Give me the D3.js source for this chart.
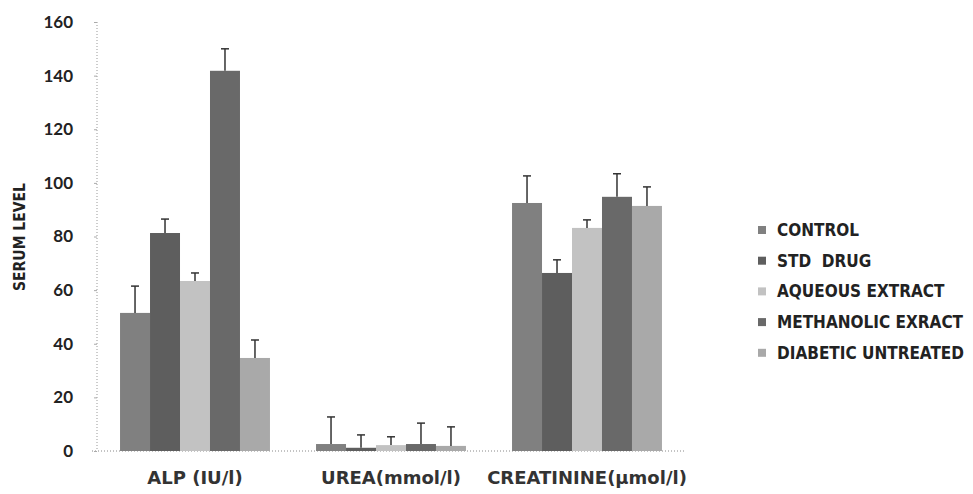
<!DOCTYPE html>
<html><head><meta charset="utf-8">
<script src="https://cdn.jsdelivr.net/npm/d3@7"></script>
<style>body{margin:0;background:#fff}svg{display:block}</style>
</head><body><svg id="c" width="973" height="494"></svg>
<script>
const categories = ["ALP (IU/l)", "UREA(mmol/l)", "CREATININE(\u00b5mol/l)"];
const seriesNames = ["CONTROL", "STD  DRUG", "AQUEOUS EXTRACT", "METHANOLIC EXRACT", "DIABETIC UNTREATED"];
const control     = [51.5, 2.6, 92.5];
const stdDrug     = [81.3, 1.2, 66.4];
const aqueous     = [63.4, 2.2, 83.2];
const methanolic  = [141.8, 2.6, 94.8];
const diabetic    = [34.7, 1.9, 91.4];
const controlErr    = [10, 10.1, 10.1];
const stdDrugErr    = [5.2, 4.8, 4.9];
const aqueousErr    = [3.0, 3.1, 3.0];
const methanolicErr = [8.2, 7.8, 8.6];
const diabeticErr   = [6.7, 7.1, 7.1];
const yTicks = [0, 20, 40, 60, 80, 100, 120, 140, 160];

const values = [control, stdDrug, aqueous, methanolic, diabetic];
const errs = [controlErr, stdDrugErr, aqueousErr, methanolicErr, diabeticErr];
const colors = ["#808080", "#5e5e5e", "#c2c2c2", "#696969", "#a9a9a9"];

const svg = d3.select("#c");
const x0 = d3.scaleBand().domain(categories).range([97, 685]).paddingInner(0.235).paddingOuter(0.1175);
const x1 = d3.scaleBand().domain(d3.range(5)).range([0, x0.bandwidth()]);
const y = d3.scaleLinear().domain([0, 160]).range([451, 22]);

// axes
svg.append("line").attr("x1", 97).attr("x2", 97).attr("y1", y(160)).attr("y2", y(0))
  .attr("stroke", "#999").attr("stroke-dasharray", "1,2");
svg.append("line").attr("x1", 92).attr("x2", 685).attr("y1", y(0)).attr("y2", y(0))
  .attr("stroke", "#888").attr("stroke-dasharray", "1,2");

const yAxis = svg.append("g").attr("transform", "translate(97,0)")
  .call(d3.axisLeft(y).tickValues(yTicks).tickSize(3).tickPadding(21));
yAxis.select(".domain").remove();
yAxis.selectAll(".tick line").attr("stroke", "#aaa");
yAxis.selectAll("text").attr("font-family", "Lato, sans-serif")
  .attr("font-size", 17).attr("font-weight", "bold").attr("fill", "#222");

const xAxis = svg.append("g").attr("transform", `translate(0,${y(0)})`)
  .call(d3.axisBottom(x0).tickSize(0).tickPadding(20));
xAxis.select(".domain").remove();
xAxis.selectAll("text").attr("font-family", "'DejaVu Sans', sans-serif")
  .attr("font-size", 18).attr("font-weight", "bold").attr("fill", "#333");

svg.append("text").attr("transform", "translate(20,237) rotate(-90)")
  .attr("text-anchor", "middle").attr("dy", "0.35em").attr("font-family", "'DejaVu Sans Condensed', 'DejaVu Sans', sans-serif")
  .attr("font-stretch", "condensed")
  .attr("font-size", 15.5).attr("font-weight", "bold").attr("fill", "#222").text("SERUM LEVEL");

// bars
const data = [];
categories.forEach((c, ci) => values.forEach((s, si) => data.push({c, si, v: s[ci], e: errs[si][ci]})));
const g = svg.append("g");
g.selectAll("rect").data(data).join("rect")
  .attr("x", d => x0(d.c) + x1(d.si)).attr("width", x1.bandwidth())
  .attr("y", d => y(d.v)).attr("height", d => y(0) - y(d.v))
  .attr("fill", d => colors[d.si]);
// error bars
const eb = svg.append("g").attr("stroke", "#333").attr("stroke-width", 1.5);
data.forEach(d => {
  const cx = x0(d.c) + x1(d.si) + x1.bandwidth() / 2;
  eb.append("line").attr("x1", cx).attr("x2", cx).attr("y1", y(d.v)).attr("y2", y(d.v + d.e));
  eb.append("line").attr("x1", cx - 4).attr("x2", cx + 4).attr("y1", y(d.v + d.e)).attr("y2", y(d.v + d.e));
});

// legend
const lg = svg.append("g").attr("transform", "translate(758,230)");
seriesNames.forEach((n, i) => {
  const row = lg.append("g").attr("transform", `translate(0,${i * 30.7})`);
  row.append("rect").attr("x", 0).attr("y", -4).attr("width", 8).attr("height", 8).attr("fill", colors[i]);
  row.append("text").attr("x", 19).attr("y", 0).attr("dy", "0.35em")
    .attr("font-family", "'DejaVu Sans Condensed', 'DejaVu Sans', sans-serif").attr("font-stretch", "condensed")
    .attr("font-size", 17).attr("font-weight", "bold").attr("fill", "#222").attr("xml:space", "preserve")
    .style("white-space", "pre").text(n);
});
</script></body></html>
